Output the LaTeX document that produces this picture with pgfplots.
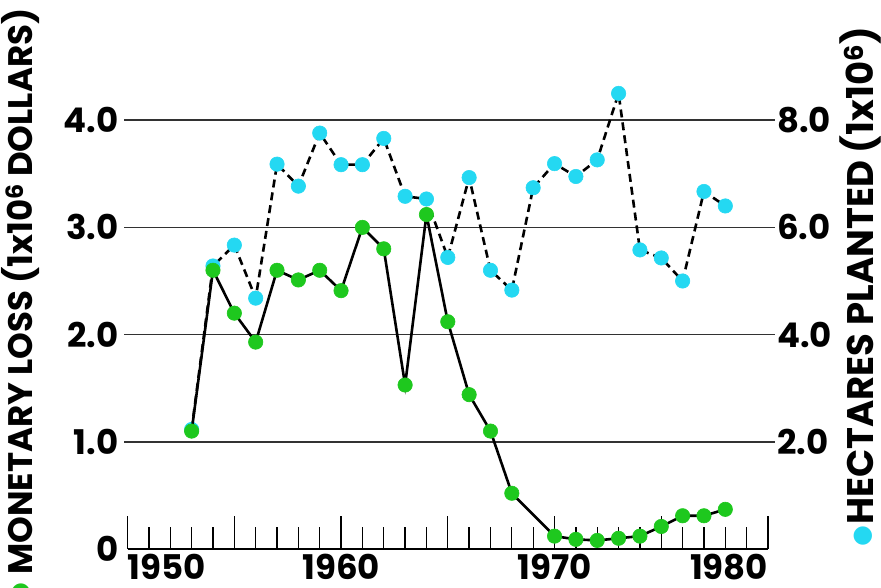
\documentclass[border=0pt]{standalone}
\usepackage{fontspec}
\setmainfont{Poppins}
\newfontfamily\symfont{DejaVu Sans}
\usepackage{pgfplots}
\usepackage{pgfplotstable}
\pgfplotsset{compat=1.18}
\definecolor{dotgreen}{RGB}{30,200,30}
\definecolor{dotcyan}{RGB}{36,216,242}
\definecolor{gridc}{RGB}{50,50,50}
\pgfplotstableread{
year loss
1953 1.10
1954 2.60
1955 2.20
1956 1.93
1957 2.60
1958 2.51
1959 2.60
1960 2.41
1961 3.00
1962 2.80
1963 1.53
1964 3.12
1965 2.12
1966 1.44
1967 1.10
1968 0.52
1970 0.12
1971 0.09
1972 0.08
1973 0.10
1974 0.12
1975 0.21
1976 0.31
1977 0.31
1978 0.37
}\losstable
\pgfplotstableread{
year ha
1953 2.23
1954 5.28
1955 5.67
1956 4.68
1957 7.18
1958 6.77
1959 7.76
1960 7.17
1961 7.17
1962 7.66
1963 6.58
1964 6.53
1965 5.44
1966 6.93
1967 5.20
1968 4.83
1969 6.74
1970 7.19
1971 6.95
1972 7.26
1973 8.50
1974 5.58
1975 5.43
1976 5.00
1977 6.67
1978 6.40
}\hatable
\newcommand\lblfont{\bfseries\fontsize{34}{34}\selectfont}
\newcommand\rlblfont{\bfseries\fontsize{37}{37}\selectfont}
\begin{document}
\begin{tikzpicture}
\useasboundingbox (-127.6pt,-38pt) rectangle (753.4pt,549pt);
\pgfplotsset{base/.style={scale only axis, width=640.4pt, height=428.8pt,
  xmin=1950, xmax=1980, at={(0pt,0pt)}, anchor=south west, clip=false}}
% right axis: hectares planted
\begin{axis}[base, ymin=0, ymax=8,
  axis x line=none, axis y line*=right, axis line style={-},
  y axis line style={draw=none}, ytick style={draw=none},
  ytick={2,4,6,8}, yticklabels={2.0,4.0,6.0,8.0},
  yticklabel style={font=\lblfont, inner sep=0pt, anchor=west, xshift=9pt}]
  \pgfplotsinvokeforeach{2,4,6,8}{\draw[line width=1.5pt, gridc] (axis cs:1949.85,#1) -- (axis cs:1980.35,#1);}
  \addplot[black, line width=2.6pt, dash pattern=on 8pt off 5pt, mark=*, mark size=7.2pt,
    mark options={solid, line width=0.6pt, draw=dotcyan, fill=dotcyan}] table[x=year,y=ha]{\hatable};
\end{axis}
% left axis: monetary loss
\begin{axis}[base, ymin=0, ymax=4,
  axis x line=bottom, axis y line=left, axis line style={-},
  y axis line style={draw=none}, ytick style={draw=none},
  x axis line style={line width=1.5pt, black},
  xtick={1950,1955,...,1980}, minor x tick num=4,
  xticklabels={\makebox[0pt][l]{1950},,1960,,1970,,\makebox[0pt][r]{1980}},
  tick align=inside, major tick length=33pt, minor tick length=22pt,
  x tick style={line width=1.3pt, black},
  xticklabel style={font=\lblfont, inner sep=0pt, anchor=north, yshift=-5pt},
  ytick={0,1,2,3,4}, yticklabels={0,1.0,2.0,3.0,4.0},
  yticklabel style={font=\lblfont, inner sep=0pt, anchor=east, xshift=-9pt}]
  \addplot[black, line width=2.6pt, mark=*, mark size=7.2pt,
    mark options={solid, line width=0.6pt, draw=dotgreen, fill=dotgreen}] table[x=year,y=loss]{\losstable};
\end{axis}
\node[rotate=90, font=\lblfont, anchor=base west, inner sep=0pt] at (-94.6pt,-26pt)
  {MONETARY LOSS (1x10\textsuperscript{6} DOLLARS)};
\node[rotate=90, font=\fontsize{24}{24}\selectfont, text=dotgreen, inner sep=0pt] at (-106pt,-44pt) {\symfont ●};
\node[rotate=90, font=\rlblfont, anchor=base west, inner sep=0pt] at (745.4pt,24pt)
  {HECTARES PLANTED (1x10\textsuperscript{6})};
\node[rotate=90, font=\fontsize{24}{24}\selectfont, text=dotcyan, inner sep=0pt] at (735.4pt,13pt) {\symfont ●};
\end{tikzpicture}
\end{document}
